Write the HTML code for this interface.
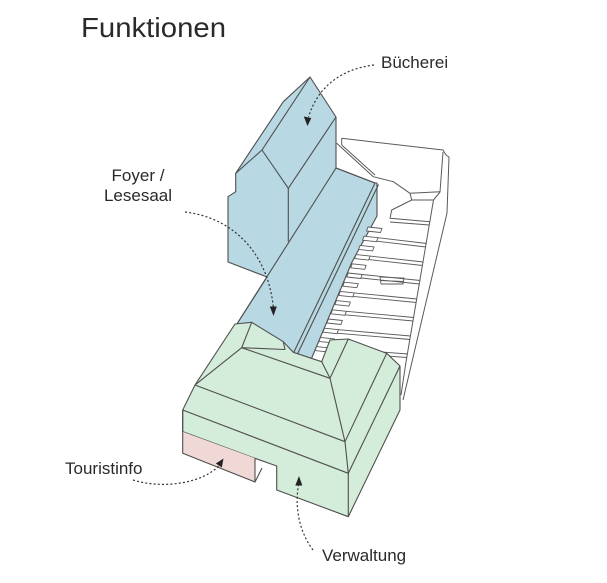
<!DOCTYPE html>
<html><head><meta charset="utf-8"><style>
html,body{margin:0;padding:0;background:#fff;}
svg{display:block;}
text{font-family:"Liberation Sans",Arial,sans-serif;fill:#2a2a2a;}
</style></head><body>
<svg width="607" height="583" viewBox="0 0 607 583" xmlns="http://www.w3.org/2000/svg">
<rect width="607" height="583" fill="#fff"/>

<!-- white structure -->
<g stroke="#5a5a5a" stroke-width="1" fill="none" stroke-linejoin="round">
  <path d="M341.7,138.3 L341.7,145 M341.7,138.3 L443,150 L446,155 L449,157 L447,213 L403,400"/>
  <path d="M443,152 L440,192 L433.5,200 L406,362 L401,395"/>
  <path d="M336.7,143.3 L373.3,176.7 M341.7,145 L375,175"/>
  <path d="M373.3,176.7 L393.3,181.7 L410,193.3 L411.7,200 L433.3,200 M410,193.3 L440,191.7 M411.7,200 L391.7,210 L390,218.3 L430,221.7 M390,222 L429.5,225"/>
</g>

<!-- blue building -->
<path d="M310,77 L336,117 L336,168 L375,183 L377,183 L377,216 L352,262 L310,362 L290,362 L235,327 L267,277 L228,262 L228,196.7 L235.7,191.7 L235.7,173.3 L283.3,101.7 Z" fill="#b8d8e3" stroke="#4f4f4f" stroke-width="1.1" stroke-linejoin="round"/>
<g stroke="#4f4f4f" stroke-width="1.1" fill="none" stroke-linejoin="round">
  <path d="M310,77 L262,150 L235.7,173.3"/>
  <path d="M262,150 L288.3,188.3 L336,117"/>
  <path d="M288.3,188.3 L288.3,241.7"/>
  <path d="M336,168 L235,327"/>
  <path d="M336,168 L375,183"/>
  <path d="M375,183 L293,354 M378.5,184.5 L297,355"/>
</g>

<!-- steps and rows -->
<g stroke="#5a5a5a" stroke-width="0.9" fill="#fff" stroke-linejoin="round">
  <polygon points="368,227 382,228.5 380.5,232.5 366.5,231"/>
  <polygon points="364,236.2 378,237.7 376.5,241.7 362.5,240.2"/>
  <polygon points="360.1,245.4 374.1,246.9 372.6,250.9 358.6,249.4"/>
  <polygon points="356.1,254.6 370.1,256.1 368.6,260.1 354.6,258.6"/>
  <polygon points="352.2,263.8 366.2,265.3 364.7,269.3 350.7,267.8"/>
  <polygon points="348.2,273 362.2,274.5 360.7,278.5 346.7,277"/>
  <polygon points="344.3,282.2 358.3,283.7 356.8,287.7 342.8,286.2"/>
  <polygon points="340.3,291.4 354.3,292.9 352.8,296.9 338.8,295.4"/>
  <polygon points="336.4,300.6 350.4,302.1 348.9,306.1 334.9,304.6"/>
  <polygon points="332.4,309.8 346.4,311.3 344.9,315.3 330.9,313.8"/>
  <polygon points="328.4,319 342.4,320.5 340.9,324.5 326.9,323"/>
  <polygon points="324.5,328.2 338.5,329.7 337,333.7 323,332.2"/>
  <polygon points="320.5,337.4 334.5,338.9 333,342.9 319,341.4"/>
  <polygon points="316.6,346.6 330.6,348.1 329.1,352.1 315.1,350.6"/>
</g>
<g stroke="#5a5a5a" stroke-width="0.9" fill="none">
  <path d="M378,237.7 L426.6,243.5 M377,241.2 L426,247"/>
  <path d="M370.1,256.1 L423.3,262 M369,259.6 L422.7,265.5"/>
  <path d="M362.2,274.5 L420.2,280.5 M361,278 L419.6,284"/>
  <path d="M354.3,292.9 L417,299 M353,296.4 L416.4,302.5"/>
  <path d="M346.4,311.3 L413.8,317.5 M345,314.8 L413.2,321"/>
  <path d="M338.5,329.7 L410.6,336 M337,333.2 L410,339.5"/>
  <path d="M330.6,348.1 L407.5,354 M329,351.6 L407,357.5"/>
  <path d="M380,277 L404,278 L403,284 L381,284 Z M380.5,280.5 L403.5,281.5"/>
</g>

<!-- green building -->
<path d="M182.7,410 L195,385 L235,324 L251.7,322.3 L283.3,341.7 L293.3,352.3 L321.7,361.7 L330,340 L348.3,339 L386.7,353.3 L400,366 L400,410 L348.3,516.7 L276.7,490 L276.7,466 L255,458.3 L182.7,431.7 Z" fill="#d4ecda" stroke="#4f4f4f" stroke-width="1.1" stroke-linejoin="round"/>
<path d="M182.7,431.7 L255,458.3 L255,482 L182.7,453.3 Z" fill="#f0d8d6" stroke="none"/>
<g stroke="#4f4f4f" stroke-width="1.1" fill="none" stroke-linejoin="round">
  <path d="M182.7,410 L182.7,453.3 L255,482 L255,458.3"/>
  <path d="M255,482 L262,468"/>
  <path d="M182.7,410 L348.3,473.3"/>
  <path d="M195,385 L345,441.7"/>
  <path d="M195,385 L241.7,347.7 L330,378.3 L345,441.7 L348.3,473.3 L348.3,516.7"/>
  <path d="M241.7,347.7 L251.7,322.3"/>
  <path d="M241.7,347.7 L285,349.5 L283.3,341.7"/>
  <path d="M348.3,339 L330,378.3 L321.7,361.7"/>
  <path d="M386.7,353.3 L345,441.7"/>
  <path d="M400,366 L348.3,473.3"/>
</g>

<!-- dotted leaders -->
<g stroke="#333" stroke-width="1.2" fill="none" stroke-dasharray="2 2.2">
  <path d="M374,65 C 342,69 318,86 308.5,117"/>
  <path d="M185,212 C 235,218 268,255 273.3,307"/>
  <path d="M133,480 C 165,490 205,482 219.5,465"/>
  <path d="M313,550 C 298,530 295,505 298.5,485"/>
</g>
<g fill="#222">
  <polygon points="303.8,116.5 311.3,118 307.5,126"/>
  <polygon points="269.8,306.5 276.8,306.5 273.5,316"/>
  <polygon points="215.8,463.5 221.8,467.5 223.5,458.5"/>
  <polygon points="295.3,485.5 302.3,485.5 299,476"/>
</g>

<!-- labels -->
<text x="81" y="37" font-size="28" textLength="145" lengthAdjust="spacingAndGlyphs" fill="#333">Funktionen</text>
<text x="381" y="68" font-size="17">Bücherei</text>
<text x="138" y="181" font-size="17" text-anchor="middle">Foyer /</text>
<text x="138" y="201" font-size="17" text-anchor="middle">Lesesaal</text>
<text x="65" y="474" font-size="17">Touristinfo</text>
<text x="322" y="561" font-size="17">Verwaltung</text>
</svg>
</body></html>
